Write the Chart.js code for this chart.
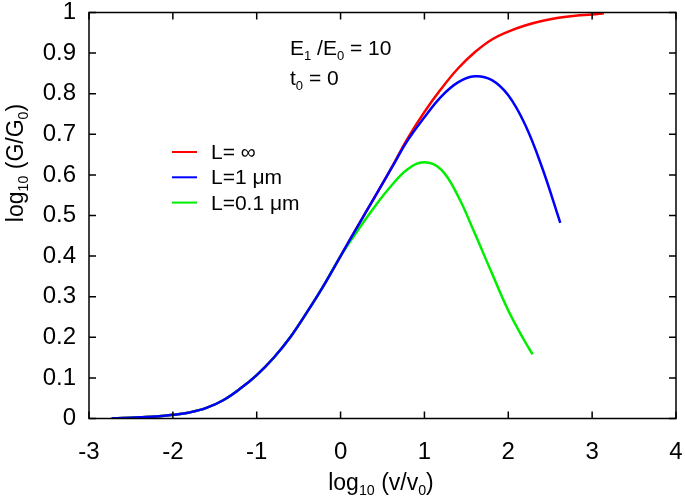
<!DOCTYPE html>
<html>
<head>
<meta charset="utf-8">
<script src="https://cdn.jsdelivr.net/npm/chart.js@4.4.0/dist/chart.umd.min.js"></script>
<style>
  body { margin: 0; background: #fff; }
  #plot { display: block; }
</style>
</head>
<body>
<canvas id="plot" width="685" height="499"></canvas>
<script>
// curves (x = log10(v/v0), y = log10(G/G0))
var redX = [-2.73, -2.6, -2.4, -2.2, -2, -1.8, -1.6, -1.4, -1.2, -1, -0.8, -0.6, -0.4, -0.2, 0, 0.2, 0.4, 0.6, 0.8, 1, 1.2, 1.4, 1.6, 1.8, 2, 2.2, 2.4, 2.6, 2.8, 3, 3.14];
var redY = [0, 0.001, 0.003, 0.005, 0.009, 0.015, 0.026, 0.045, 0.073, 0.107, 0.149, 0.2, 0.262, 0.328, 0.4, 0.472, 0.543, 0.615, 0.69, 0.755, 0.812, 0.862, 0.902, 0.933, 0.953, 0.968, 0.979, 0.987, 0.992, 0.995, 0.998];

var blueX = [-2.73, -2.6, -2.4, -2.2, -2, -1.8, -1.6, -1.4, -1.2, -1, -0.8, -0.6, -0.4, -0.2, 0, 0.2, 0.4, 0.6, 0.8, 1, 1.2, 1.4, 1.6, 1.8, 2, 2.2, 2.4, 2.62];
var blueY = [0, 0.001, 0.003, 0.005, 0.009, 0.015, 0.026, 0.045, 0.073, 0.107, 0.149, 0.2, 0.262, 0.328, 0.4, 0.472, 0.543, 0.614, 0.685, 0.742, 0.793, 0.828, 0.843, 0.834, 0.796, 0.724, 0.62, 0.482];

var greenX = [-2.73, -2.6, -2.4, -2.2, -2, -1.8, -1.6, -1.4, -1.2, -1, -0.8, -0.6, -0.4, -0.2, 0, 0.2, 0.4, 0.6, 0.8, 1, 1.2, 1.4, 1.6, 1.8, 2, 2.2, 2.29];
var greenY = [0, 0.001, 0.003, 0.005, 0.009, 0.015, 0.026, 0.045, 0.073, 0.107, 0.149, 0.2, 0.262, 0.328, 0.4, 0.462, 0.52, 0.572, 0.614, 0.631, 0.613, 0.548, 0.456, 0.36, 0.266, 0.189, 0.158];

var seriesNames = ["L= \u221e", "L=1 \u03bcm", "L=0.1 \u03bcm"];
var seriesColors = ["#ff0000", "#0000ff", "#00ee00"];

var xTicks = [-3, -2, -1, 0, 1, 2, 3, 4];
var yTicks = [0, 0.1, 0.2, 0.3, 0.4, 0.5, 0.6, 0.7, 0.8, 0.9, 1];

var FONT = "'Liberation Sans', Arial, Helvetica, sans-serif";

function toPoints(xs, ys) {
	var pts = [];
	for (var i = 0; i < xs.length; i++) {
		pts.push({x: xs[i], y: ys[i]});
	}
	return pts;
}

// draws text with pieces that can be subscripts, returns width
function drawParts(ctx, parts, x, y, size, measureOnly) {
	var w = 0;
	parts.forEach(function(p) {
		var s = p.sub ? size * 0.62 : size;
		ctx.font = s + "px " + FONT;
		if (!measureOnly) {
			ctx.fillText(p.t, x + w, p.sub ? y + size * 0.22 : y);
		}
		w += ctx.measureText(p.t).width;
	});
	return w;
}

var framePlugin = {
	id: 'frame',
	afterDraw: function(chart) {
		var ctx = chart.ctx;
		var a = chart.chartArea;
		var xs = chart.scales.x, ys = chart.scales.y;
		var tl = 7;

		ctx.save();
		ctx.strokeStyle = "#000";
		ctx.lineWidth = 1.5;
		ctx.strokeRect(a.left, a.top, a.right - a.left, a.bottom - a.top);

		// inward ticks on all four sides
		ctx.beginPath();
		xTicks.forEach(function(v) {
			var px = xs.getPixelForValue(v);
			ctx.moveTo(px, a.bottom); ctx.lineTo(px, a.bottom - tl);
			ctx.moveTo(px, a.top); ctx.lineTo(px, a.top + tl);
		});
		yTicks.forEach(function(v) {
			var py = ys.getPixelForValue(v);
			ctx.moveTo(a.left, py); ctx.lineTo(a.left + tl, py);
			ctx.moveTo(a.right, py); ctx.lineTo(a.right - tl, py);
		});
		ctx.stroke();

		ctx.fillStyle = "#000";
		ctx.textBaseline = "alphabetic";
		ctx.textAlign = "left";

		// x axis title
		var xt = [{t: "log"}, {t: "10", sub: true}, {t: " (v/v"}, {t: "0", sub: true}, {t: ")"}];
		var w = drawParts(ctx, xt, 0, 0, 23, true);
		drawParts(ctx, xt, 381 - w / 2, 490, 23);

		// y axis title
		var yt = [{t: "log"}, {t: "10", sub: true}, {t: " (G/G"}, {t: "0", sub: true}, {t: ")"}];
		ctx.save();
		ctx.translate(23, 163);
		ctx.rotate(-Math.PI / 2);
		w = drawParts(ctx, yt, 0, 0, 23, true);
		drawParts(ctx, yt, -w / 2, 0, 23);
		ctx.restore();

		// annotation
		drawParts(ctx, [{t: "E"}, {t: "1", sub: true}, {t: " /E"}, {t: "0", sub: true}, {t: " = 10"}], 290, 55, 21);
		drawParts(ctx, [{t: "t"}, {t: "0", sub: true}, {t: " = 0"}], 290, 85, 21);

		// legend
		for (var i = 0; i < seriesNames.length; i++) {
			var ly = 152 + i * 25.3;
			ctx.strokeStyle = seriesColors[i];
			ctx.lineWidth = 2;
			ctx.beginPath();
			ctx.moveTo(172, ly);
			ctx.lineTo(197, ly);
			ctx.stroke();
			ctx.font = "21px " + FONT;
			ctx.fillText(seriesNames[i], 211, ly + 7);
		}
		ctx.restore();
	}
};

var ctx = document.getElementById('plot').getContext('2d');
var chart = new Chart(ctx, {
	type: 'scatter',
	data: {
		datasets: [{
			label: seriesNames[0],
			data: toPoints(redX, redY),
			borderColor: seriesColors[0],
			order: 2
		}, {
			label: seriesNames[1],
			data: toPoints(blueX, blueY),
			borderColor: seriesColors[1],
			order: 0
		}, {
			label: seriesNames[2],
			data: toPoints(greenX, greenY),
			borderColor: seriesColors[2],
			order: 1
		}]
	},
	options: {
		responsive: false,
		animation: false,
		showLine: true,
		layout: { padding: { top: 12.5, right: 9, left: 0, bottom: 0 } },
		elements: {
			point: { radius: 0 },
			line: { borderWidth: 2.5, tension: 0.4, fill: false }
		},
		plugins: {
			legend: { display: false },
			tooltip: { enabled: false }
		},
		scales: {
			x: {
				type: 'linear',
				min: -3, max: 4,
				afterFit: function(s) { s.height = 80.5; s.paddingLeft = 0; s.paddingRight = 0; },
				afterBuildTicks: function(s) { s.ticks = xTicks.map(function(v) { return {value: v}; }); },
				grid: { display: false, drawTicks: false },
				border: { display: false },
				ticks: { color: "#000", font: { family: FONT, size: 24 }, padding: 19, maxRotation: 0 }
			},
			y: {
				type: 'linear',
				min: 0, max: 1,
				afterFit: function(s) { s.width = 89; s.paddingTop = 0; s.paddingBottom = 0; },
				afterBuildTicks: function(s) { s.ticks = yTicks.map(function(v) { return {value: v}; }); },
				grid: { display: false, drawTicks: false },
				border: { display: false },
				ticks: {
					color: "#000", font: { family: FONT, size: 24 }, padding: 13,
					callback: function(v) { return String(Number(v.toFixed(1))); }
				}
			}
		}
	},
	plugins: [framePlugin]
});
</script>
</body>
</html>
